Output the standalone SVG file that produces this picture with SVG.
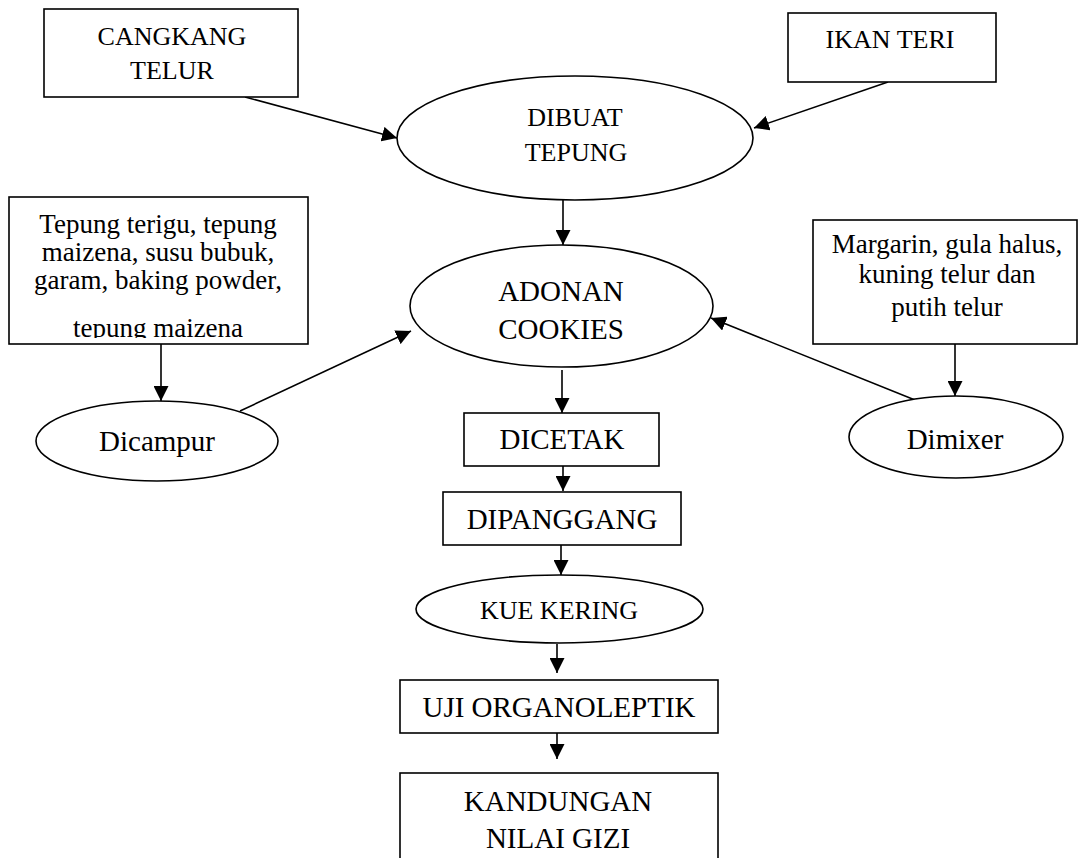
<svg xmlns="http://www.w3.org/2000/svg" width="1079" height="858" viewBox="0 0 1079 858">
<style>
.s{fill:#fff;stroke:#000;stroke-width:1.6}
.t{font-family:"Liberation Serif","Times New Roman",serif;fill:#000;text-anchor:middle}
.f26{font-size:26px}
.f27{font-size:27px}
.f29{font-size:29px}
.c{fill:none;stroke:#000;stroke-width:1.6;marker-end:url(#ah)}
</style>
<defs>
<marker id="ah" viewBox="0 0 15 15" refX="15" refY="7.5" markerWidth="15" markerHeight="15" markerUnits="userSpaceOnUse" orient="auto">
<path d="M0,0 L15,7.5 L0,15 Z" fill="#000"/>
</marker>
<clipPath id="clipTepung"><rect x="9" y="197" width="299" height="141"/></clipPath>
</defs>
<rect width="1079" height="858" fill="#fff"/>
<g id="connectors">
<line class="c" x1="245" y1="97" x2="397" y2="138"/>
<line class="c" x1="888" y1="82" x2="754" y2="128"/>
<line class="c" x1="563" y1="200" x2="563" y2="245"/>
<line class="c" x1="161" y1="344" x2="161" y2="401"/>
<line class="c" x1="955" y1="344" x2="955" y2="396"/>
<line class="c" x1="240" y1="411" x2="411" y2="331"/>
<line class="c" x1="915" y1="400" x2="711" y2="318"/>
<line class="c" x1="562" y1="370" x2="562" y2="413"/>
<line class="c" x1="563" y1="466" x2="563" y2="491"/>
<line class="c" x1="561" y1="545" x2="561" y2="575"/>
<line class="c" x1="557" y1="644" x2="557" y2="673"/>
<line class="c" x1="557" y1="731" x2="557" y2="759"/>
</g>
<g id="cangkang">
<rect class="s" x="44" y="9" width="254" height="88"/>
<text class="t f26" x="172" y="45">CANGKANG</text>
<text class="t f26" x="172" y="79">TELUR</text>
</g>
<g id="ikanteri">
<rect class="s" x="788" y="13" width="208" height="69"/>
<text class="t f26" x="890" y="48">IKAN TERI</text>
</g>
<g id="dibuat">
<ellipse class="s" cx="575" cy="138" rx="178" ry="62"/>
<text class="t f26" x="575" y="126">DIBUAT</text>
<text class="t f26" x="576" y="161">TEPUNG</text>
</g>
<g id="tepung">
<rect class="s" x="9" y="197" width="299" height="147"/>
<g clip-path="url(#clipTepung)">
<text class="t f27" x="158" y="233">Tepung terigu, tepung</text>
<text class="t f27" x="158" y="261">maizena, susu bubuk,</text>
<text class="t f27" x="158" y="289">garam, baking powder,</text>
<text class="t f27" x="158" y="337">tepung maizena</text>
</g>
</g>
<g id="adonan">
<ellipse class="s" cx="561.5" cy="306" rx="151.5" ry="61"/>
<text class="t f29" x="561" y="301">ADONAN</text>
<text class="t f29" x="561" y="339">COOKIES</text>
</g>
<g id="margarin">
<rect class="s" x="813" y="220" width="264" height="124"/>
<text class="t f27" x="947" y="253">Margarin, gula halus,</text>
<text class="t f27" x="947" y="283">kuning telur dan</text>
<text class="t f27" x="947" y="316">putih telur</text>
</g>
<g id="dicampur">
<ellipse class="s" cx="157" cy="441" rx="121" ry="40"/>
<text class="t f29" x="157" y="451">Dicampur</text>
</g>
<g id="dimixer">
<ellipse class="s" cx="956" cy="437" rx="107" ry="41"/>
<text class="t f29" x="955" y="449">Dimixer</text>
</g>
<g id="dicetak">
<rect class="s" x="464" y="413" width="195" height="53"/>
<text class="t f29" x="562" y="449">DICETAK</text>
</g>
<g id="dipanggang">
<rect class="s" x="443" y="492" width="238" height="53"/>
<text class="t f29" x="562" y="529">DIPANGGANG</text>
</g>
<g id="kuekering">
<ellipse class="s" cx="559.5" cy="609" rx="143.5" ry="34"/>
<text class="t f26" x="559" y="619">KUE KERING</text>
</g>
<g id="uji">
<rect class="s" x="400" y="680" width="318" height="53"/>
<text class="t f29" x="559" y="717">UJI ORGANOLEPTIK</text>
</g>
<g id="kandungan">
<rect class="s" x="400" y="773" width="318" height="100"/>
<text class="t f29" x="558" y="811">KANDUNGAN</text>
<text class="t f29" x="558" y="848">NILAI GIZI</text>
</g>
</svg>
